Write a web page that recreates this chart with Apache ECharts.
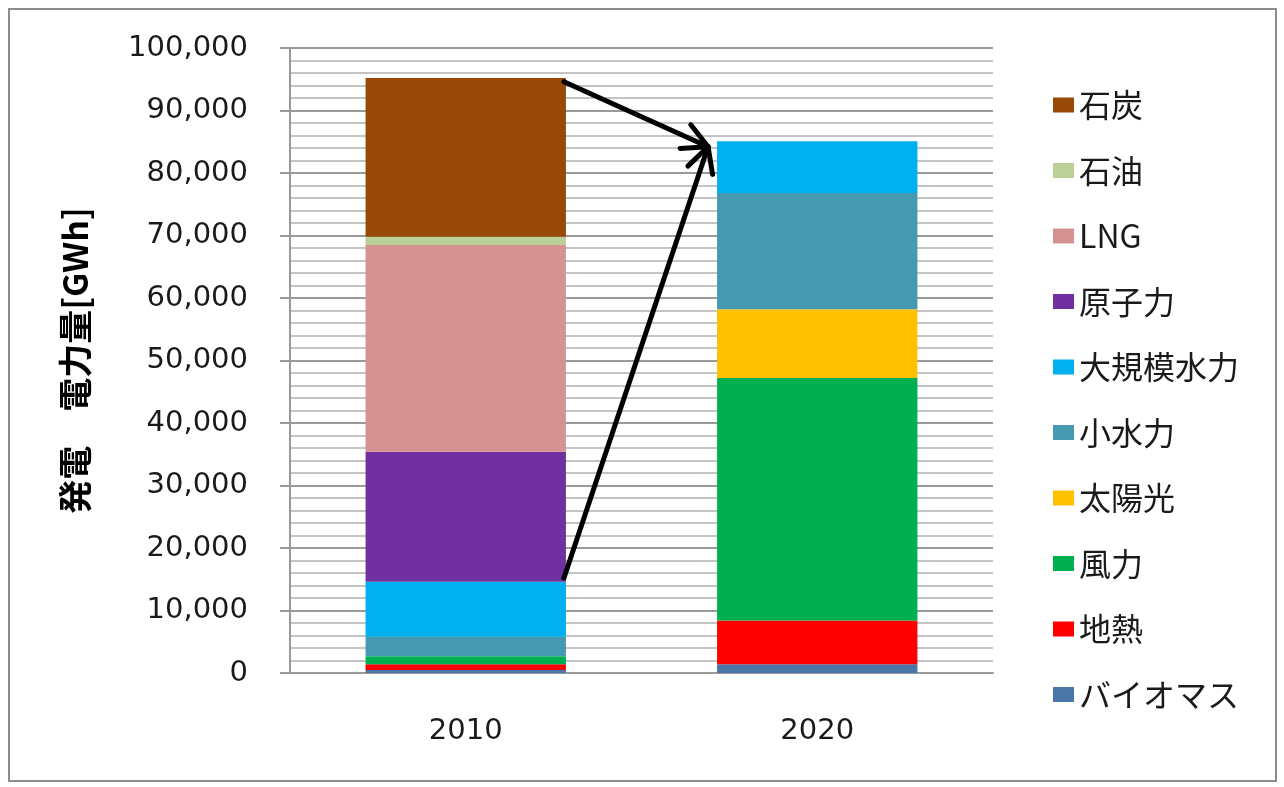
<!DOCTYPE html>
<html>
<head>
<meta charset="utf-8">
<title>発電電力量</title>
<script src="https://cdn.jsdelivr.net/npm/echarts@6/dist/echarts.min.js"></script>
<style>
  html, body { margin: 0; padding: 0; background: #ffffff; }
  #chart { width: 1284px; height: 787px; }
</style>
</head>
<body>
<div id="chart"></div>
<script>
// Generation mix by source, GWh
const years = ['2010', '2020'];
const sourceNames = ['バイオマス', '地熱', '風力', '太陽光', '小水力', '大規模水力', '原子力', 'LNG', '石油', '石炭'];

const biomass    = [500,   1400];
const geothermal = [900,   7000];
const wind       = [1300,  38800];
const solar      = [0,     11000];
const smallHydro = [3100,  18600];
const largeHydro = [8800,  8300];
const nuclear    = [20800, 0];
const lng        = [33100, 0];
const oil        = [1300,  0];
const coal       = [25400, 0];

const seriesValues = [biomass, geothermal, wind, solar, smallHydro, largeHydro, nuclear, lng, oil, coal];

// Axis range and ticks
const yMin = 0;
const yMax = 100000;
const yStep = 10000;

// Arrow anchors: [category, value] at the start points and the common end point
const arrowStarts = [['2010', 94600], ['2010', 15200]];
const arrowEnd = ['2020', 84200];

const palette = {
  'バイオマス': '#4A76A8',
  '地熱': '#FF0000',
  '風力': '#00B050',
  '太陽光': '#FFC000',
  '小水力': '#4599B0',
  '大規模水力': '#00B0F0',
  '原子力': '#7030A0',
  'LNG': '#D49290',
  '石油': '#BBD098',
  '石炭': '#984807'
};

const latinFont = '"DejaVu Sans", Verdana, sans-serif';
const cjkFont = '"Noto Sans CJK JP", "Noto Sans", sans-serif';
const barWidthRatio = 0.57;

const chart = echarts.init(document.getElementById('chart'), null, { renderer: 'canvas' });

const series = sourceNames.map((name, i) => ({
  name: name,
  type: 'bar',
  stack: 'total',
  barWidth: (barWidthRatio * 100) + '%',
  itemStyle: { color: palette[name] },
  emphasis: { disabled: true },
  data: seriesValues[i]
}));

chart.setOption({
  animation: false,
  backgroundColor: '#ffffff',
  grid: { left: 290, right: 291, top: 48, bottom: 114, containLabel: false },
  legend: {
    orient: 'vertical',
    left: 1048,
    top: 83,
    itemWidth: 21,
    itemHeight: 15,
    itemGap: 31.5,
    icon: 'rect',
    data: sourceNames.slice().reverse(),
    textStyle: { fontFamily: cjkFont, fontSize: 32, lineHeight: 34, color: '#1a1a1a' }
  },
  xAxis: {
    type: 'category',
    data: years,
    axisLine: { show: true, lineStyle: { color: '#9a9a9a', width: 2 } },
    axisTick: { show: false },
    axisLabel: { margin: 44, fontFamily: latinFont, fontSize: 29, color: '#1a1a1a' },
    splitLine: { show: false }
  },
  yAxis: {
    type: 'value',
    min: yMin,
    max: yMax,
    interval: yStep,
    name: '発電　電力量[GWh]',
    nameLocation: 'middle',
    nameRotate: 90,
    nameGap: 198,
    nameTextStyle: { fontFamily: cjkFont, fontSize: 34, fontWeight: 'bold', color: '#000' },
    axisLine: { show: true, lineStyle: { color: '#9a9a9a', width: 2 } },
    axisTick: { show: true, inside: false, length: 10, lineStyle: { color: '#9a9a9a', width: 2 } },
    minorTick: { show: false, splitNumber: 5 },
    axisLabel: {
      margin: 42,
      fontFamily: latinFont,
      fontSize: 29,
      color: '#1a1a1a',
      formatter: v => v.toLocaleString('en-US')
    },
    splitLine: { show: true, lineStyle: { color: '#9a9a9a', width: 2 } },
    minorSplitLine: { show: true, lineStyle: { color: '#c4c4c4', width: 2 } }
  },
  series: series
});

// Arrows from the 2010 bar to the top of the 2020 bar
function drawArrows() {
  const c0 = chart.convertToPixel({ xAxisIndex: 0 }, years[0]);
  const c1 = chart.convertToPixel({ xAxisIndex: 0 }, years[1]);
  const band = c1 - c0;
  const half = band * barWidthRatio / 2;

  const endX = chart.convertToPixel({ xAxisIndex: 0 }, arrowEnd[0]) - half - 9;
  const endY = chart.convertToPixel({ yAxisIndex: 0 }, arrowEnd[1]);

  const elements = [];
  arrowStarts.forEach(([cat, val]) => {
    const sx = chart.convertToPixel({ xAxisIndex: 0 }, cat) + half - 2;
    const sy = chart.convertToPixel({ yAxisIndex: 0 }, val);
    elements.push({
      type: 'line',
      shape: { x1: sx, y1: sy, x2: endX, y2: endY },
      style: { stroke: '#000', lineWidth: 5, lineCap: 'round' },
      z: 100
    });
    const ang = Math.atan2(endY - sy, endX - sx);
    const headLen = 28;
    const spread = Math.PI / 6.5;
    const p1 = [endX - headLen * Math.cos(ang - spread), endY - headLen * Math.sin(ang - spread)];
    const p2 = [endX - headLen * Math.cos(ang + spread), endY - headLen * Math.sin(ang + spread)];
    elements.push({
      type: 'polyline',
      shape: { points: [p1, [endX, endY], p2] },
      style: { stroke: '#000', fill: null, lineWidth: 5, lineCap: 'round', lineJoin: 'round' },
      z: 100
    });
  });

  // Outer chart frame
  elements.push({
    type: 'rect',
    shape: { x: 9, y: 9, width: 1267, height: 772 },
    style: { stroke: '#8c8c8c', fill: null, lineWidth: 2 },
    z: 0,
    silent: true
  });

  chart.setOption({ graphic: { elements: elements } });
}

drawArrows();
</script>
</body>
</html>
